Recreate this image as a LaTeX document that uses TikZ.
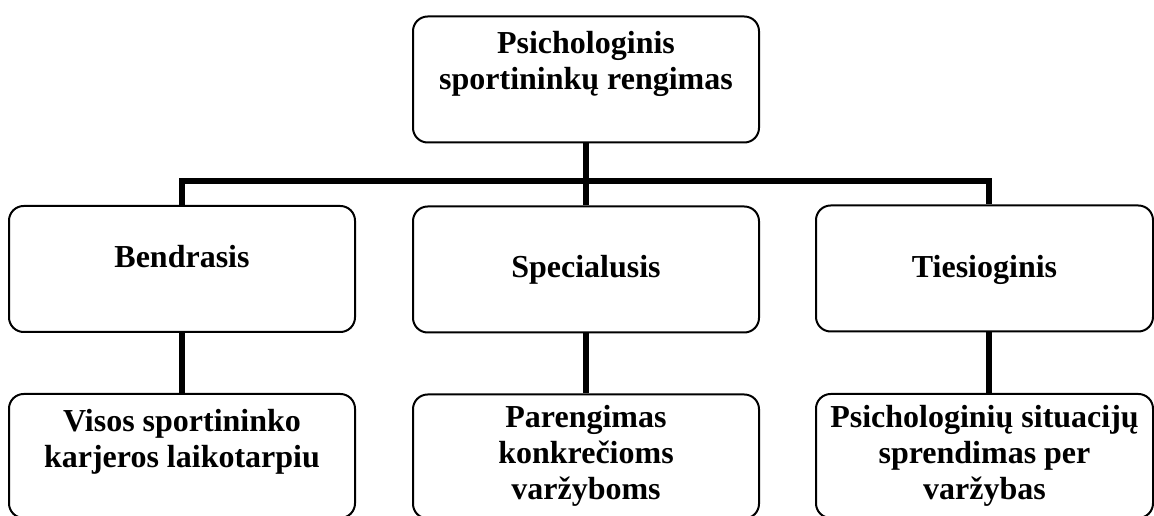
\documentclass[tikz,border=0pt]{standalone}
\usepackage{fontspec}
\setmainfont{Liberation Serif}
\usetikzlibrary{positioning}
\tikzset{
  box/.style={draw, line width=1.5pt, rounded corners=11pt, minimum width=259.5pt, minimum height=94.5pt, inner sep=0pt},
  box narrow/.style={box, minimum width=252.75pt},
  box low/.style={minimum height=93pt},
  lbl/.style={font=\bfseries\fontsize{24}{27}\selectfont, align=center, inner sep=0pt, anchor=base},
  connect/.style={line width=4.5pt}
}

\begin{document}
\begin{tikzpicture}[x=0.75pt, y=-0.75pt]
  \useasboundingbox (0,0) rectangle (1154,516);

  % boxes
  \node[box] (root) at (586,79.5) {};
  \node[box] (gen) at (182,269) {};
  \node[box] (spec) at (586,269.5) {};
  \node[box narrow] (dir) at (984.5,268.5) {};
  \node[box, box low] (genb) at (182,456) {};
  \node[box, box low] (specb) at (586,456.5) {};
  \node[box narrow, box low] (dirb) at (984.5,456) {};

  % labels (anchored on the last baseline)
  \node[lbl] (root-t) at (586,90) {Psichologinis\\sportininkų rengimas};
  \node[lbl] (gen-t) at (182,268) {Bendrasis};
  \node[lbl] (spec-t) at (586,278) {Specialusis};
  \node[lbl] (dir-t) at (984.5,278) {Tiesioginis};
  \node[lbl] (genb-t) at (182,468) {Visos sportininko\\karjeros laikotarpiu};
  \node[lbl] (specb-t) at (586,500) {Parengimas\\konkrečioms\\varžyboms};
  \node[lbl] (dirb-t) at (984.5,500) {Psichologinių situacijų\\sprendimas per\\varžybas};

  % connectors
  \coordinate (bus) at (586,181);
  \coordinate (dir-in) at ([xshift=3.4pt]dir.north);
  \coordinate (dir-out) at ([xshift=3.4pt]dir.south);
  \draw[connect] (root.south) -- (bus);
  \draw[connect] (gen.north) |- (bus) -| (dir-in);
  \draw[connect] (bus) -- (spec.north);
  \draw[connect] (gen.south) -- (genb.north);
  \draw[connect] (spec.south) -- (specb.north);
  \draw[connect] (dir-out) -- (dir-out |- dirb.north);

\end{tikzpicture}
\end{document}
